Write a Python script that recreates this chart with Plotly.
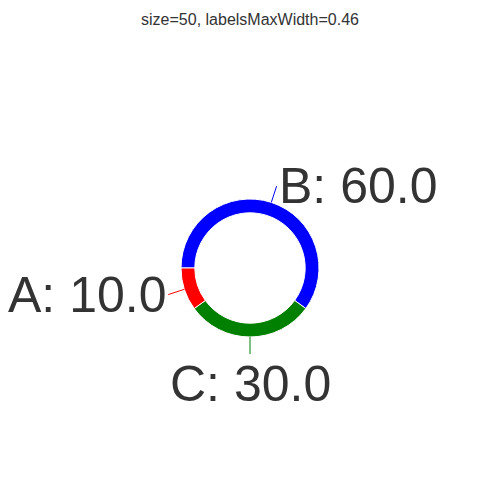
import math
import plotly.graph_objects as go

labels = ["A", "B", "C"]
values = [10, 60, 30]
colors = ["red", "blue", "green"]

# layout geometry (pixels)
W, H = 500, 500
ML, MR, MT, MB = 80, 80, 100, 80
CX, CY, R = 250, 268, 69     # pie centre and outer radius
CONNECTOR = 17               # connector length
START_DEG = 270              # first (largest) slice starts at 9 o'clock, clockwise

PW, PH = W - ML - MR, H - MT - MB


def px_to_paper(x, y):
    return (x - ML) / PW, (H - MB - y) / PH


x0, y0 = px_to_paper(CX - R, CY + R)
x1, y1 = px_to_paper(CX + R, CY - R)

fig = go.Figure(go.Pie(
    labels=labels,
    values=values,
    marker=dict(colors=colors, line=dict(color="white", width=1)),
    hole=0.8,
    textinfo="none",
    rotation=START_DEG,
    sort=True,
    direction="clockwise",
    showlegend=False,
    hoverinfo="label+value",
    domain=dict(x=[x0, x1], y=[y0, y1]),
))

# outside labels with connector lines, computed from the slice angles
total = sum(values)
order = sorted(range(len(values)), key=lambda i: -values[i])
ang = START_DEG
annotations = []
for i in order:
    span = 360 * values[i] / total
    mid = math.radians(ang + span / 2)
    ang += span
    s, c = math.sin(mid), math.cos(mid)
    hx, hy = px_to_paper(CX + R * s, CY - R * c)
    if s > 0.1:
        xa, ya = "left", "middle"
    elif s < -0.1:
        xa, ya = "right", "middle"
    else:
        xa, ya = "center", ("top" if c < 0 else "bottom")
    annotations.append(dict(
        x=hx, y=hy, xref="paper", yref="paper",
        ax=CONNECTOR * s, ay=-CONNECTOR * c, axref="pixel", ayref="pixel",
        text=f"{labels[i]}: {values[i]:.1f}",
        showarrow=True, arrowhead=0, arrowwidth=1, arrowcolor=colors[i],
        standoff=0, startstandoff=0,
        xanchor=xa, yanchor=ya,
        font=dict(size=50, color="#333"),
    ))

fig.update_layout(
    template="none",
    width=W, height=H,
    margin=dict(l=ML, r=MR, t=MT, b=MB),
    font=dict(family="Liberation Sans, Arial, sans-serif", color="#333"),
    title=dict(text="size=50, labelsMaxWidth=0.46", x=0.5, xanchor="center",
               y=0.962, yref="container", yanchor="middle", font=dict(size=16, color="#333")),
    annotations=annotations,
)
fig.write_html("out.html", config={"displayModeBar": False},
               post_script="document.body.style.margin='0';")
